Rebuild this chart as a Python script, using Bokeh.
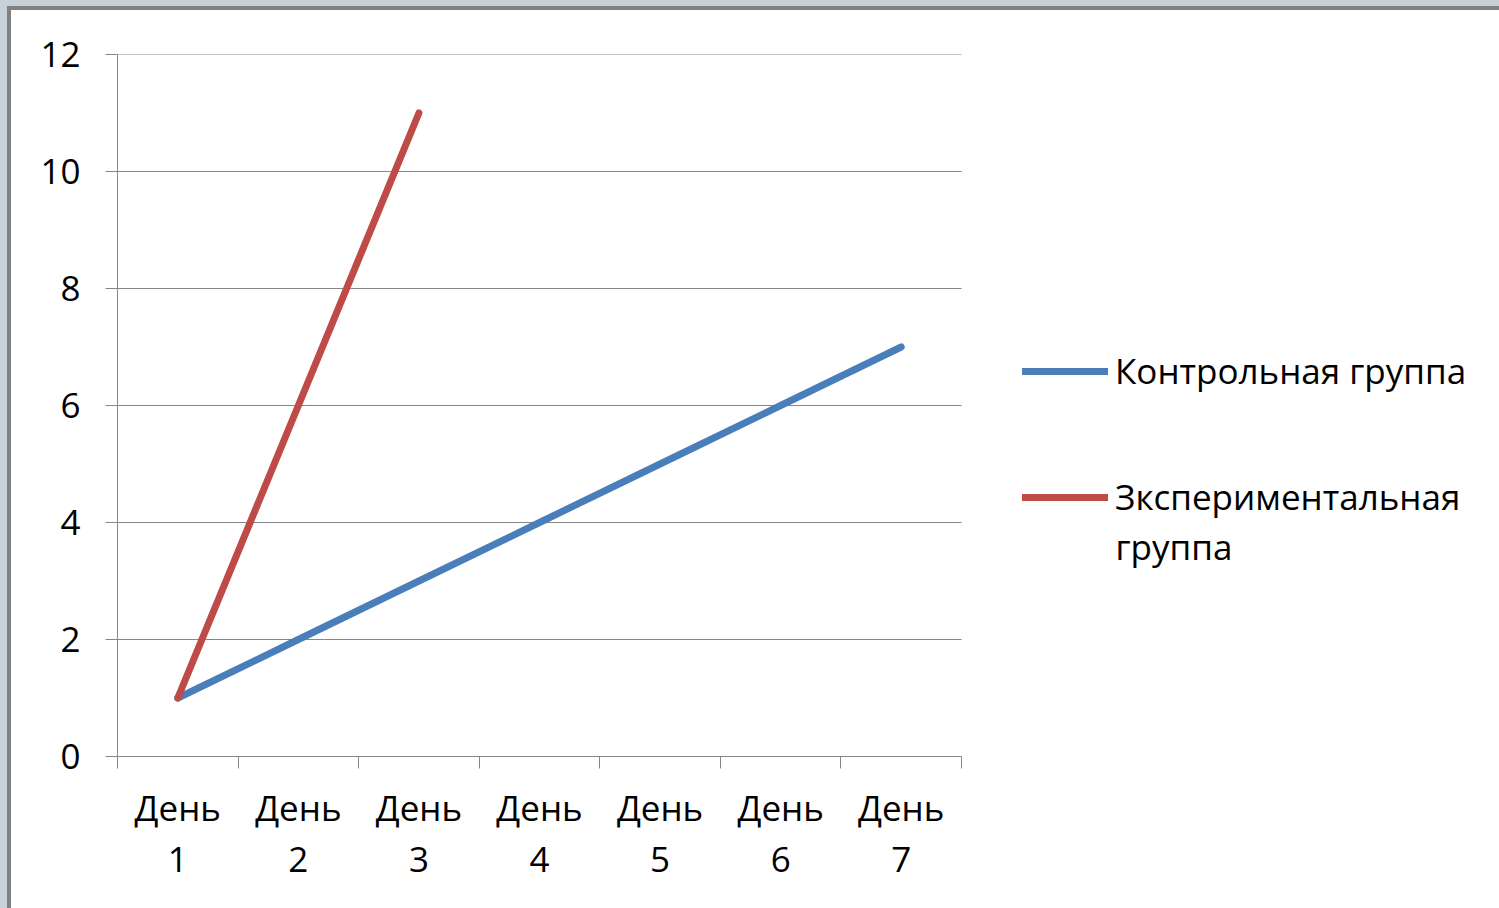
from bokeh.plotting import figure
from bokeh.models import FixedTicker, Legend, LegendItem, Label
from bokeh.layouts import column
from bokeh.embed import file_html
from bokeh.resources import INLINE

# ---- data ----
days = ["День 1", "День 2", "День 3", "День 4", "День 5", "День 6", "День 7"]
control = [1, 2, 3, 4, 5, 6, 7]
experimental = [1, 6, 11]
series_names = ["Контрольная группа", "Зкспериментальная группа"]
y_ticks = [0, 2, 4, 6, 8, 10, 12]

n = len(days)
x_pos = list(range(1, n + 1))
tick_labels = {i: d.replace(" ", "\n") for i, d in zip(x_pos, days)}

FONT = "Open Sans"
FS = "35px"
BLUE = "#4a7ebb"
RED = "#be4b48"
GREY = "#868686"

CANVAS_W, CANVAS_H = 1488, 898
LEFT, TOP, BOTTOM = 106, 44, 152
FRAME_W = CANVAS_W - LEFT
PLOT_W = 844  # pixel width of the category area
x_end = 0.5 + n * FRAME_W / PLOT_W

p = figure(width=CANVAS_W, height=CANVAS_H, x_range=(0.5, x_end), y_range=(0, 12),
           output_backend="svg", toolbar_location=None,
           min_border_left=LEFT, min_border_top=TOP, min_border_bottom=BOTTOM, min_border_right=0)
p.background_fill_color = "white"
p.border_fill_color = "white"
p.outline_line_color = None
p.xgrid.grid_line_color = None
p.ygrid.grid_line_color = None

# horizontal gridlines limited to the category area
p.segment(x0=[0.5] * len(y_ticks), x1=[n + 0.5] * len(y_ticks), y0=y_ticks, y1=y_ticks,
          line_color=GREY, line_width=1)

p.yaxis.ticker = FixedTicker(ticks=y_ticks)
p.yaxis.axis_line_color = GREY
p.yaxis.major_tick_line_color = GREY
p.yaxis.major_tick_out = 12
p.yaxis.major_tick_in = 0
p.yaxis.minor_tick_line_color = None
p.yaxis.major_label_text_font = FONT
p.yaxis.major_label_text_font_size = FS
p.yaxis.major_label_text_color = "black"
p.yaxis.major_label_standoff = 25

minor = [i - 0.5 for i in x_pos] + [x_pos[-1] + 0.5]
p.xaxis.ticker = FixedTicker(ticks=x_pos, minor_ticks=minor)
p.xaxis.bounds = (0.5, n + 0.5)
p.xaxis.major_label_overrides = tick_labels
p.xaxis.axis_line_color = GREY
p.xaxis.major_tick_line_color = None
p.xaxis.major_tick_out = 0
p.xaxis.major_tick_in = 0
p.xaxis.minor_tick_line_color = GREY
p.xaxis.minor_tick_out = 12
p.xaxis.minor_tick_in = 0
p.xaxis.major_label_text_font = FONT
p.xaxis.major_label_text_font_size = FS
p.xaxis.major_label_text_color = "black"
p.xaxis.major_label_text_line_height = 1.1
p.xaxis.major_label_standoff = 15

r1 = p.line(x_pos, control, line_color=BLUE, line_width=7, line_cap="round", line_join="round")
r2 = p.line(x_pos[:len(experimental)], experimental, line_color=RED, line_width=7,
            line_cap="round", line_join="round")

first, second = series_names[1].split(" ", 1)
legend = Legend(items=[LegendItem(label=series_names[0], renderers=[r1]),
                       LegendItem(label=first, renderers=[r2])],
                location=(905, 236), padding=0, margin=0, spacing=79,
                glyph_width=86, glyph_height=40, label_height=40, label_standoff=7,
                label_text_font=FONT, label_text_font_size=FS, label_text_color="black",
                border_line_color=None, background_fill_alpha=0)
p.add_layout(legend, "center")
p.add_layout(Label(x=998, y=210, x_units="screen", y_units="screen", text=second,
                   text_font=FONT, text_font_size=FS, text_baseline="middle",
                   text_align="left", text_color="black"))

inner = column(p, styles={"background-color": "white", "border-top": "4px solid #808080",
                          "border-left": "4px solid #808080"})
outer = column(inner, styles={"background-color": "#c6d1da", "padding-top": "6px",
                              "padding-left": "7px"})

open("out.html", "w").write(file_html(outer, INLINE))
